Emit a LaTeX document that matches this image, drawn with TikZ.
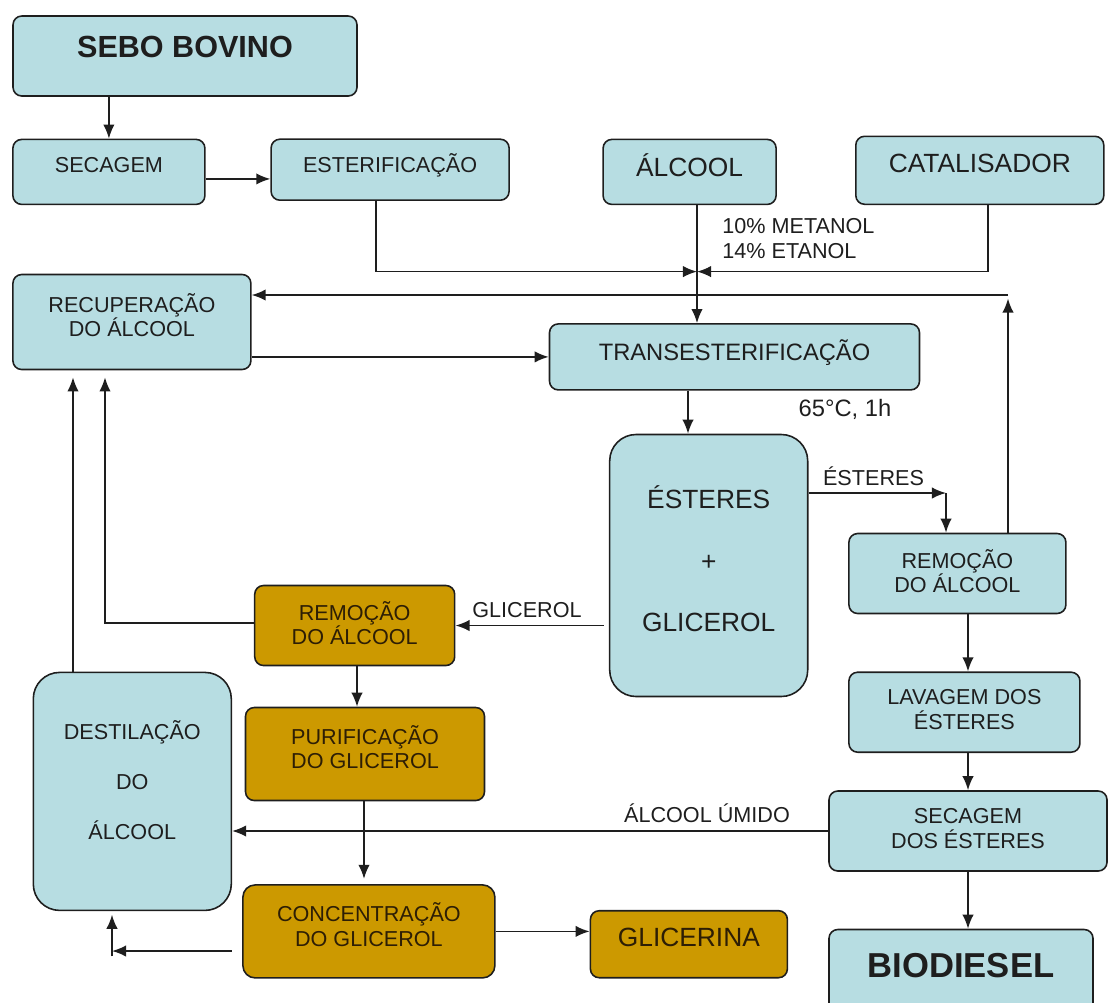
\documentclass[tikz,border=0pt]{standalone}
\usepackage{fontspec}
\setmainfont{Liberation Sans}
\usetikzlibrary{arrows.meta}
\definecolor{boxblue}{RGB}{183,221,226}
\definecolor{boxgold}{RGB}{204,153,0}
\definecolor{ink}{RGB}{30,30,30}
\definecolor{goldink}{RGB}{45,30,5}
\tikzset{
  box/.style={draw=ink, line width=0.9pt, rounded corners=5pt, fill=boxblue, text=ink, align=center, inner sep=0pt, text depth=8pt, font=\fontsize{12.3}{14}\selectfont},
  gbox/.style={box, fill=boxgold, text=goldink},
  wh/.style 2 args={minimum width=#1*0.02cm, minimum height=#2*0.02cm},
  lbl/.style={text=ink, inner sep=0pt, align=left, font=\fontsize{12.3}{14}\selectfont},
  flow/.style={-{Latex[length=8pt,width=6.5pt]}, line width=0.95pt, draw=ink}
}
\begin{document}
\begin{tikzpicture}[x=0.02cm, y=-0.02cm]
\useasboundingbox (0,0) rectangle (1109,1002);
\node[box, wh={344}{80}, text depth=10.6pt, font=\fontsize{17.4}{20}\selectfont\bfseries] (sebo) at (185,56) {SEBO BOVINO};
\node[box, wh={192}{65}] (secagem) at (108.9,171.9) {SECAGEM};
\node[box, wh={238}{61}] (ester) at (390.1,169.7) {ESTERIFICAÇÃO};
\node[box, wh={173}{65}, font=\fontsize{15}{18}\selectfont] (alcool) at (689.6,171.9) {ÁLCOOL};
\node[box, wh={248}{68}, font=\fontsize{15}{18}\selectfont] (catal) at (979.8,170.3) {CATALISADOR};
\node[box, wh={238}{95}] (recup) at (131.9,322) {RECUPERAÇÃO\\DO ÁLCOOL};
\node[box, wh={370}{66}, font=\fontsize{13.5}{16}\selectfont] (trans) at (734.5,356.9) {TRANSESTERIFICAÇÃO};
\node[box, wh={198}{262}, rounded corners=15pt, text depth=7.4pt, font=\fontsize{15}{35}\selectfont] (estgli) at (708.7,565.5) {ÉSTERES\\+\\GLICEROL};
\node[box, wh={217}{80}, text depth=3pt] (remr) at (957.4,573.5) {REMOÇÃO\\DO ÁLCOOL};
\node[gbox, wh={200}{80}, text depth=3pt] (remg) at (354.7,625.5) {REMOÇÃO\\DO ÁLCOOL};
\node[box, wh={231}{80}, text depth=3pt] (lavagem) at (964.4,712.2) {LAVAGEM DOS\\ÉSTERES};
\node[box, wh={198}{238}, rounded corners=15pt, text depth=12.5pt, font=\fontsize{12.3}{28.5}\selectfont] (destil) at (132.3,791.4) {DESTILAÇÃO\\DO\\ÁLCOOL};
\node[gbox, wh={239}{93}] (purif) at (365,754) {PURIFICAÇÃO\\DO GLICEROL};
\node[box, wh={278}{80}, text depth=3pt] (secest) at (968,831) {SECAGEM\\DOS ÉSTERES};
\node[gbox, wh={252}{93}, rounded corners=7pt] (concent) at (368.9,931.4) {CONCENTRAÇÃO\\DO GLICEROL};
\node[gbox, wh={197}{67}, font=\fontsize{15}{18}\selectfont] (glicerina) at (688.9,944.2) {GLICERINA};
\node[box, wh={264}{85}, font=\fontsize{19.7}{22}\selectfont\bfseries] (biodiesel) at (961,972) {BIODIESEL};
\node[lbl, anchor=north west] (dose) at (722,218) {10\% METANOL\\14\% ETANOL};
\node[lbl, font=\fontsize{13.5}{16}\selectfont] (cond) at (845,409) {65°C, 1h};
\node[lbl] (lest) at (873.5,476) {ÉSTERES};
\node[lbl] (lgli) at (527,610) {GLICEROL};
\node[lbl] (lumi) at (707,813.5) {ÁLCOOL ÚMIDO};
\coordinate (mix) at (697,271.6);
\coordinate (back) at (1008,295);
\coordinate (estfork) at (946,493);
\coordinate (glyup) at (105,623);
\coordinate (conback) at (112,951);
\draw[flow] (sebo.south -| secagem) -- (secagem);
\draw[flow] ([yshift=-4pt]secagem.east) -- ([yshift=-4pt]secagem.east -| ester.west);
\draw[flow] (ester.south -| 376,0) |- (mix);
\draw[flow] (catal.south -| 988,0) |- (mix);
\draw[flow] (alcool.south -| mix) -- (trans.north -| mix);
\draw[flow, shorten >=2pt] (remr.north -| back) -- (back);
\draw[flow] (back) -- (recup.east |- back);
\draw[flow] (recup.east |- trans) -- (trans.west);
\draw[flow] (trans.south -| 688,0) -- (estgli.north -| 688,0);
\draw[flow] (estgli.east |- estfork) -- (estfork);
\draw[flow] (estfork) -- (remr.north -| estfork);
\draw[flow] ([xshift=-3pt]estgli.west |- remg.east) -- (remg.east);
\draw[flow, shorten >=4pt] (remg.west |- glyup) -| (recup.south -| glyup);
\draw[flow, shorten >=4pt] (destil.north -| 73,0) -- (recup.south -| 73,0);
\draw[flow] (remg.south -| 357,0) -- (purif.north -| 357,0);
\draw[flow, shorten >=3pt] (purif.south -| 364,0) -- (concent.north -| 364,0);
\draw[flow] (remr.south -| 968,0) -- (lavagem.north -| 968,0);
\draw[flow] (lavagem.south -| 968,0) -- (secest.north -| 968,0);
\draw[flow] (secest.south -| 968,0) -- (biodiesel.north -| 968,0);
\draw[flow] (secest.west) -- (destil.east |- secest.west);
\draw[flow] (concent.east) -- (glicerina.west |- concent.east);
\draw[flow] ([xshift=-6pt]concent.west |- conback) -- (conback);
\draw[flow, shorten >=2pt] ([yshift=-3pt]conback) -- (destil.south -| conback);
\end{tikzpicture}
\end{document}
